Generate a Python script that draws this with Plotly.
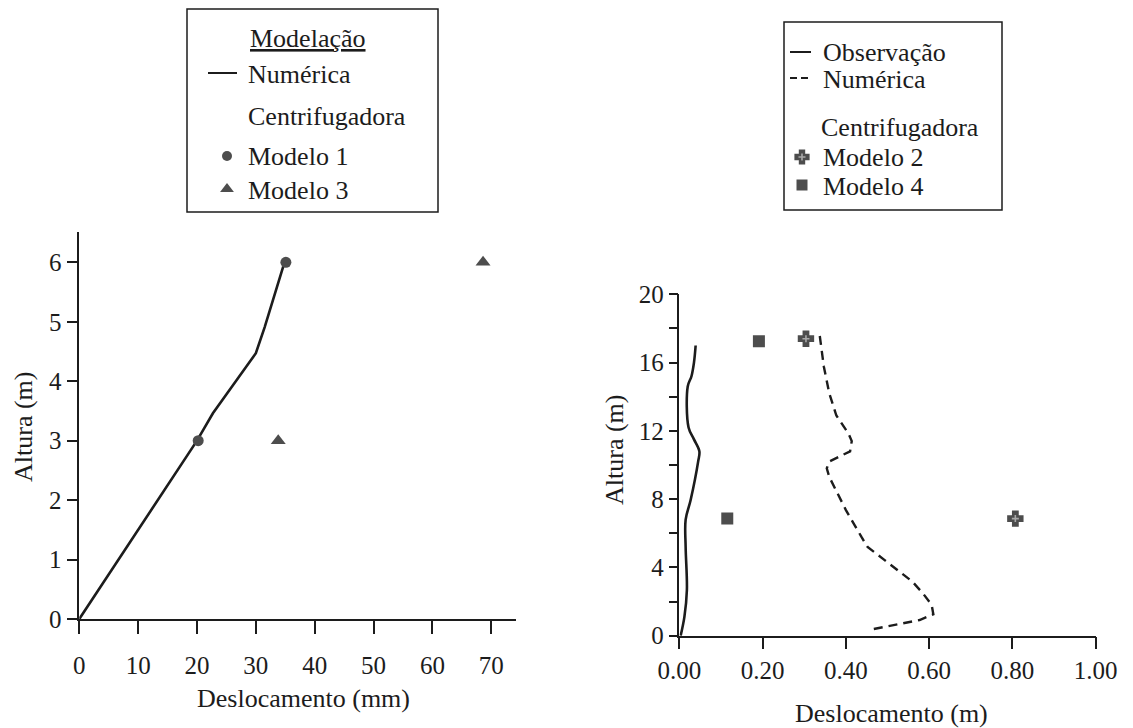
import plotly.graph_objects as go

# ---------------- data ----------------
# Left chart (Modelação)
num_left_x = [0, 16.4, 20.0, 22.7, 30.0, 31.5, 34.8]
num_left_y = [0, 2.45, 3.0, 3.46, 4.47, 4.91, 5.98]
mod1_x = [20.2, 35.1]
mod1_y = [3.0, 6.0]
mod3_x = [33.8, 68.6]
mod3_y = [3.0, 6.0]
left_xticks = [0, 10, 20, 30, 40, 50, 60, 70]
left_yticks = [0, 1, 2, 3, 4, 5, 6]

# Right chart
obs_x = [0.003, 0.012, 0.018, 0.015, 0.015, 0.027, 0.045, 0.048, 0.035, 0.022, 0.020, 0.029, 0.035, 0.039]
obs_y = [0.0, 1.1, 2.68, 5.2, 6.8, 7.95, 10.2, 10.8, 11.5, 12.2, 14.6, 15.2, 16.0, 17.0]
numr_x = [0.467, 0.577, 0.610, 0.606, 0.585, 0.560, 0.493, 0.452, 0.437, 0.400, 0.360, 0.354,
          0.360, 0.410, 0.414, 0.406, 0.377, 0.360, 0.347, 0.337]
numr_y = [0.39, 0.92, 1.25, 1.8, 2.48, 3.16, 4.43, 5.2, 5.8, 7.36, 9.3, 9.8,
          10.2, 10.8, 11.4, 11.85, 12.9, 14.2, 15.76, 17.6]
mod2_x = [0.304, 0.807]
mod2_y = [17.4, 6.86]
mod4_x = [0.191, 0.115]
mod4_y = [17.25, 6.86]
right_xticks = [0, 0.2, 0.4, 0.6, 0.8, 1.0]
right_xlabels = ["0.00", "0.20", "0.40", "0.60", "0.80", "1.00"]
right_yticks = [0, 2, 4, 6, 8, 10, 12, 14, 16, 18, 20]
right_ylabels = ["0", "", "4", "", "8", "", "12", "", "16", "", "20"]

# ---------------- style ----------------
W, H = 1133, 728
FONT = "Liberation Serif, Times New Roman, serif"
INK = "#1c1c1c"
MK = "#4d4d4d"
INNER = "#a8a8a8"
TICKF = dict(family=FONT, size=25, color=INK)
TXTF = dict(family=FONT, size=26, color=INK)

fig = go.Figure()

# left chart traces
fig.add_trace(go.Scatter(x=num_left_x, y=num_left_y, mode="lines",
                         line=dict(color=INK, width=2.6), xaxis="x", yaxis="y"))
fig.add_trace(go.Scatter(x=mod1_x, y=mod1_y, mode="markers",
                         marker=dict(symbol="circle", size=11, color=MK), xaxis="x", yaxis="y"))
fig.add_trace(go.Scatter(x=mod3_x, y=mod3_y, mode="markers",
                         marker=dict(symbol="triangle-up", size=13, color=MK), xaxis="x", yaxis="y"))

# right chart traces
fig.add_trace(go.Scatter(x=obs_x, y=obs_y, mode="lines", line_shape="spline",
                         line=dict(color=INK, width=2.6), xaxis="x2", yaxis="y2"))
fig.add_trace(go.Scatter(x=numr_x, y=numr_y, mode="lines",
                         line=dict(color=INK, width=2.4, dash="9px,6px"), xaxis="x2", yaxis="y2"))
fig.add_trace(go.Scatter(x=mod4_x, y=mod4_y, mode="markers",
                         marker=dict(symbol="square", size=12, color=MK), xaxis="x2", yaxis="y2"))
fig.add_trace(go.Scatter(x=mod2_x, y=mod2_y, mode="markers",
                         marker=dict(symbol="cross", size=12, color=MK, line=dict(color=MK, width=2)),
                         xaxis="x2", yaxis="y2"))
fig.add_trace(go.Scatter(x=mod2_x, y=mod2_y, mode="markers",
                         marker=dict(symbol="cross-thin", size=5, line=dict(color=INNER, width=1.6)),
                         xaxis="x2", yaxis="y2"))

# ---------------- legend boxes (overlay pixel axis) ----------------
def ov(trace):
    trace.update(xaxis="x3", yaxis="y3")
    fig.add_trace(trace)

# left legend samples
ov(go.Scatter(x=[208, 237], y=[73, 73], mode="lines", line=dict(color=INK, width=2)))
ov(go.Scatter(x=[227], y=[156], mode="markers", marker=dict(symbol="circle", size=10, color=MK)))
ov(go.Scatter(x=[227], y=[189], mode="markers", marker=dict(symbol="triangle-up", size=12, color=MK)))
# right legend samples
ov(go.Scatter(x=[790, 811], y=[52, 52], mode="lines", line=dict(color=INK, width=2)))
ov(go.Scatter(x=[790, 811], y=[78, 78], mode="lines", line=dict(color=INK, width=2, dash="7px,4px")))
ov(go.Scatter(x=[802], y=[157], mode="markers",
              marker=dict(symbol="cross", size=11, color=MK, line=dict(color=MK, width=2))))
ov(go.Scatter(x=[802], y=[157], mode="markers",
              marker=dict(symbol="cross-thin", size=5, line=dict(color=INNER, width=1.6))))
ov(go.Scatter(x=[802], y=[185], mode="markers", marker=dict(symbol="square", size=11, color=MK)))

shapes = [
    dict(type="rect", xref="x3", yref="y3", x0=187, x1=438, y0=9, y1=212,
         line=dict(color=INK, width=1.5)),
    dict(type="rect", xref="x3", yref="y3", x0=784, x1=1002, y0=22, y1=210,
         line=dict(color=INK, width=1.5)),
]

def ann(text, x, y, xanchor="left", angle=0, font=TXTF):
    return dict(text=text, x=x, y=y, xref="x3", yref="y3", xanchor=xanchor,
                yanchor="middle", showarrow=False, font=font, textangle=angle)

annotations = [
    ann("<u>Modelação</u>", 308, 38, "center"),
    ann("Numérica", 246, 74),
    ann("Centrifugadora", 246, 116),
    ann("Modelo 1", 246, 156),
    ann("Modelo 3", 246, 190),
    ann("Observação", 821, 52),
    ann("Numérica", 821, 79),
    ann("Centrifugadora", 819, 127),
    ann("Modelo 2", 821, 157),
    ann("Modelo 4", 821, 186),
    ann("Deslocamento (mm)", 303, 698, "center"),
    ann("Deslocamento (m)", 891, 713, "center"),
    ann("Altura (m)", 23, 427, "center", -90),
    ann("Altura (m)", 614, 450, "center", -90),
]

def px_x(p):
    return p / W

def px_y(p):
    return 1 - p / H

axis_common = dict(showgrid=False, zeroline=False, showline=True, linecolor=INK, linewidth=1.5,
                   ticks="outside", tickcolor=INK, tickwidth=1.5, tickfont=TICKF,
                   automargin=False, fixedrange=True)

fig.update_layout(
    width=W, height=H, margin=dict(l=0, r=0, t=0, b=0),
    paper_bgcolor="white", plot_bgcolor="rgba(0,0,0,0)", showlegend=False,
    xaxis=dict(**axis_common, domain=[px_x(79.3), px_x(516)], range=[0, 74.2],
               tickvals=left_xticks, ticklen=13, ticklabelstandoff=10, anchor="y"),
    yaxis=dict(**axis_common, domain=[px_y(619), px_y(232)], range=[0, 6.51],
               tickvals=left_yticks, ticklen=11, anchor="x"),
    xaxis2=dict(**axis_common, domain=[px_x(679.4), px_x(1095.7)], range=[0, 1.0],
                tickvals=right_xticks, ticktext=right_xlabels, ticklen=12, ticklabelstandoff=0,
                anchor="y2"),
    yaxis2=dict(**axis_common, domain=[px_y(635.7), px_y(294.3)], range=[0, 20],
                tickvals=right_yticks, ticktext=right_ylabels, ticklen=9, anchor="x2"),
    xaxis3=dict(domain=[0, 1], range=[0, W], visible=False, fixedrange=True, anchor="y3"),
    yaxis3=dict(domain=[0, 1], range=[H, 0], visible=False, fixedrange=True, anchor="x3"),
    shapes=shapes, annotations=annotations,
)

fig.write_html("out.html", config={"displayModeBar": False},
               post_script="document.body.style.margin='0';")
